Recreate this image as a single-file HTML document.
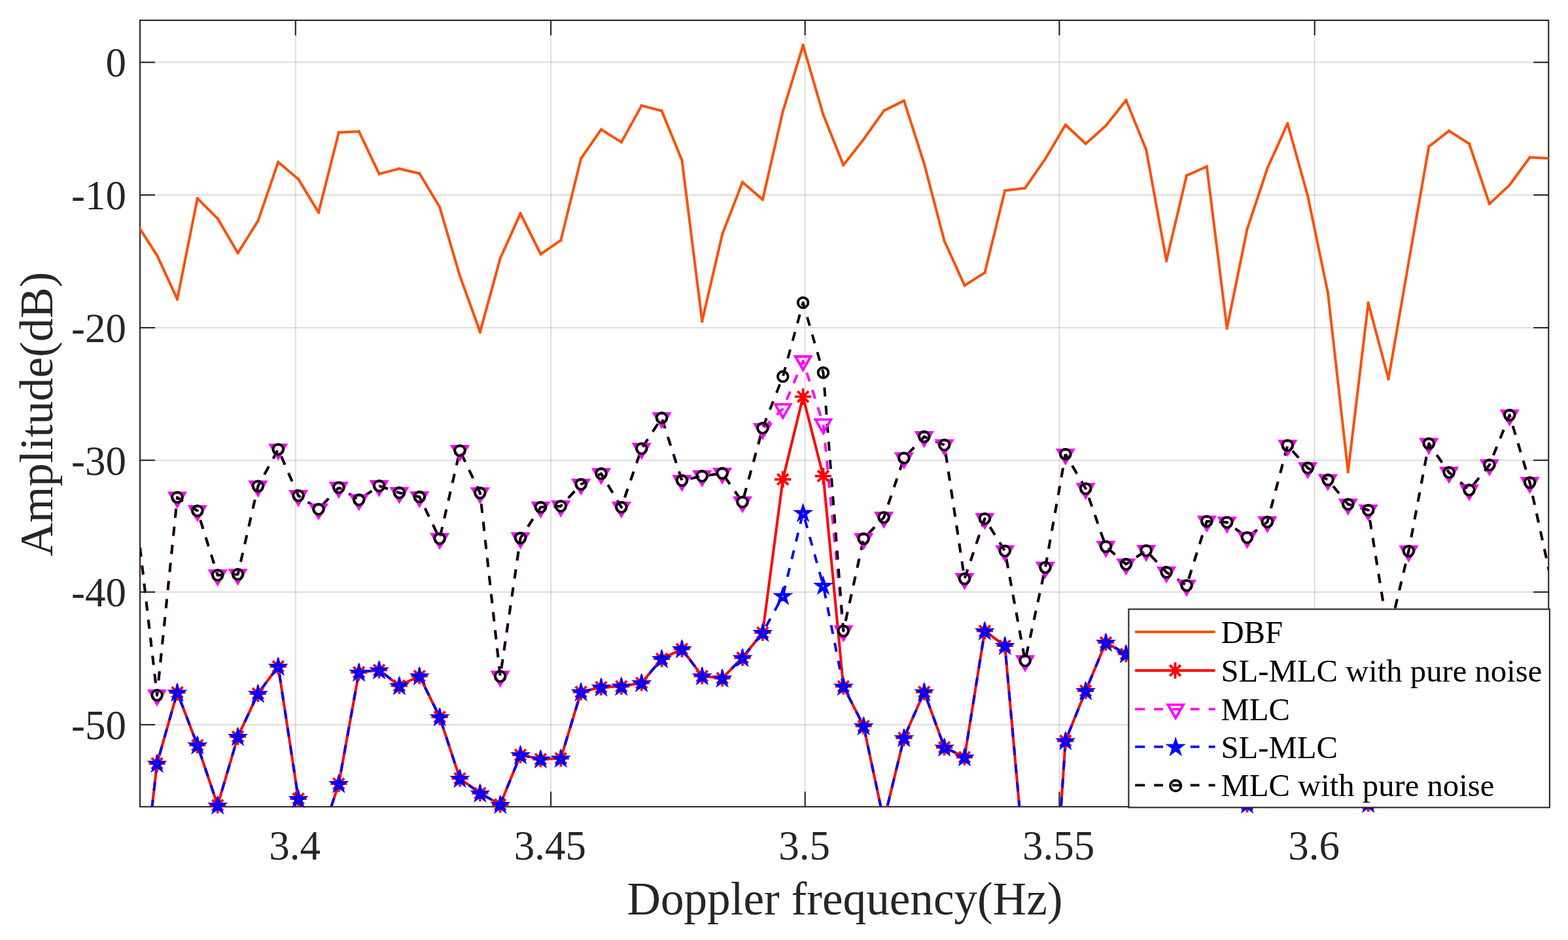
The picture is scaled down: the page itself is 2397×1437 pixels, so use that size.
<!DOCTYPE html>
<html lang="en"><head><meta charset="utf-8"><title>Doppler spectrum</title>
<style>
html,body{margin:0;padding:0;background:#fff;}
body{width:2397px;height:1437px;overflow:hidden;}
svg{display:block;}
text{font-family:"Liberation Serif","Times New Roman",serif;}
.tk{font-size:63px;fill:#262626;}
.lb{font-size:71.2px;fill:#262626;}
.lg{font-size:48.7px;fill:#000;}
.gr{stroke:#262626;stroke-opacity:0.15;stroke-width:2.1;fill:none;}
.ax{stroke:#262626;stroke-width:2.1;fill:none;}
.ln{fill:none;stroke-linejoin:round;stroke-linecap:butt;}
</style></head><body>
<svg xmlns="http://www.w3.org/2000/svg" width="2397" height="1437" viewBox="0 0 2397 1437">
<rect x="0" y="0" width="2397" height="1437" fill="#fff"/>
<defs><clipPath id="ac"><rect x="214.0" y="31.0" width="2153.3" height="1202.3"/></clipPath></defs>
<g class="gr">
<line x1="451.8" y1="31.0" x2="451.8" y2="1233.3"/>
<line x1="842.1" y1="31.0" x2="842.1" y2="1233.3"/>
<line x1="1230.7" y1="31.0" x2="1230.7" y2="1233.3"/>
<line x1="1619.4" y1="31.0" x2="1619.4" y2="1233.3"/>
<line x1="2009.7" y1="31.0" x2="2009.7" y2="1233.3"/>
<line x1="214.0" y1="95.3" x2="2367.3" y2="95.3"/>
<line x1="214.0" y1="298.1" x2="2367.3" y2="298.1"/>
<line x1="214.0" y1="501.0" x2="2367.3" y2="501.0"/>
<line x1="214.0" y1="703.6" x2="2367.3" y2="703.6"/>
<line x1="214.0" y1="905.1" x2="2367.3" y2="905.1"/>
<line x1="214.0" y1="1107.9" x2="2367.3" y2="1107.9"/>
</g>
<g class="ax">
<rect x="214.0" y="31.0" width="2153.3" height="1202.3"/>
<line x1="451.8" y1="1233.3" x2="451.8" y2="1210.3"/>
<line x1="451.8" y1="31.0" x2="451.8" y2="54.0"/>
<line x1="842.1" y1="1233.3" x2="842.1" y2="1210.3"/>
<line x1="842.1" y1="31.0" x2="842.1" y2="54.0"/>
<line x1="1230.7" y1="1233.3" x2="1230.7" y2="1210.3"/>
<line x1="1230.7" y1="31.0" x2="1230.7" y2="54.0"/>
<line x1="1619.4" y1="1233.3" x2="1619.4" y2="1210.3"/>
<line x1="1619.4" y1="31.0" x2="1619.4" y2="54.0"/>
<line x1="2009.7" y1="1233.3" x2="2009.7" y2="1210.3"/>
<line x1="2009.7" y1="31.0" x2="2009.7" y2="54.0"/>
<line x1="214.0" y1="95.3" x2="237.0" y2="95.3"/>
<line x1="2367.3" y1="95.3" x2="2344.3" y2="95.3"/>
<line x1="214.0" y1="298.1" x2="237.0" y2="298.1"/>
<line x1="2367.3" y1="298.1" x2="2344.3" y2="298.1"/>
<line x1="214.0" y1="501.0" x2="237.0" y2="501.0"/>
<line x1="2367.3" y1="501.0" x2="2344.3" y2="501.0"/>
<line x1="214.0" y1="703.6" x2="237.0" y2="703.6"/>
<line x1="2367.3" y1="703.6" x2="2344.3" y2="703.6"/>
<line x1="214.0" y1="905.1" x2="237.0" y2="905.1"/>
<line x1="2367.3" y1="905.1" x2="2344.3" y2="905.1"/>
<line x1="214.0" y1="1107.9" x2="237.0" y2="1107.9"/>
<line x1="2367.3" y1="1107.9" x2="2344.3" y2="1107.9"/>
</g>
<text class="tk" x="450.6" y="1314.4" text-anchor="middle">3.4</text>
<text class="tk" x="840.9" y="1314.4" text-anchor="middle">3.45</text>
<text class="tk" x="1229.5" y="1314.4" text-anchor="middle">3.5</text>
<text class="tk" x="1618.2" y="1314.4" text-anchor="middle">3.55</text>
<text class="tk" x="2008.5" y="1314.4" text-anchor="middle">3.6</text>
<text class="tk" x="193.0" y="117.3" text-anchor="end">0</text>
<text class="tk" x="193.0" y="320.1" text-anchor="end">-10</text>
<text class="tk" x="193.0" y="523.0" text-anchor="end">-20</text>
<text class="tk" x="193.0" y="725.6" text-anchor="end">-30</text>
<text class="tk" x="193.0" y="927.1" text-anchor="end">-40</text>
<text class="tk" x="193.0" y="1129.9" text-anchor="end">-50</text>
<text class="lb" x="1291.5" y="1397.7" text-anchor="middle">Doppler frequency(Hz)</text>
<text class="lb" transform="translate(80,633) rotate(-90)" text-anchor="middle">Amplitude(dB)</text>
<g clip-path="url(#ac)" class="ln">
<path d="M209.2,342.5L240.1,390.4M240.1,390.4L271.0,457.4M271.0,457.4L301.8,303.3M301.8,303.3L332.7,334.1M332.7,334.1L363.6,386.8M363.6,386.8L394.4,337.8M394.4,337.8L425.3,247.7M425.3,247.7L456.1,273.9M456.1,273.9L487.0,324.7M487.0,324.7L517.9,202.5M517.9,202.5L548.7,200.9M548.7,200.9L579.6,265.9M579.6,265.9L610.4,257.9M610.4,257.9L641.3,265.2M641.3,265.2L672.1,316.5M672.1,316.5L703.0,421.7M703.0,421.7L733.9,507.5M733.9,507.5L764.7,395.0M764.7,395.0L795.6,326.4M795.6,326.4L826.5,388.5M826.5,388.5L857.3,367.4M857.3,367.4L888.2,242.4M888.2,242.4L919.0,197.9M919.0,197.9L949.9,217.4M949.9,217.4L980.8,161.4M980.8,161.4L1011.6,169.5M1011.6,169.5L1042.5,244.9M1042.5,244.9L1073.3,491.0M1073.3,491.0L1104.2,358.0M1104.2,358.0L1135.0,278.6M1135.0,278.6L1165.9,305.0M1165.9,305.0L1196.8,170.3M1196.8,170.3L1227.6,69.3M1227.6,69.3L1258.5,175.3M1258.5,175.3L1289.3,252.4M1289.3,252.4L1320.2,213.0M1320.2,213.0L1351.1,169.4M1351.1,169.4L1381.9,153.9M1381.9,153.9L1412.8,250.3M1412.8,250.3L1443.7,368.5M1443.7,368.5L1474.5,436.4M1474.5,436.4L1505.4,416.9M1505.4,416.9L1536.2,291.6M1536.2,291.6L1567.1,287.4M1567.1,287.4L1598.0,242.8M1598.0,242.8L1628.8,190.8M1628.8,190.8L1659.7,219.7M1659.7,219.7L1690.5,192.2M1690.5,192.2L1721.4,153.2M1721.4,153.2L1752.2,229.0M1752.2,229.0L1783.1,398.6M1783.1,398.6L1814.0,268.3M1814.0,268.3L1844.8,254.7M1844.8,254.7L1875.7,501.7M1875.7,501.7L1906.5,350.5M1906.5,350.5L1937.4,257.3M1937.4,257.3L1968.3,188.9M1968.3,188.9L1999.1,299.2M1999.1,299.2L2030.0,448.0M2030.0,448.0L2060.8,721.2M2060.8,721.2L2091.7,463.3M2091.7,463.3L2122.6,579.2M2122.6,579.2L2153.4,401.0M2153.4,401.0L2184.3,224.0M2184.3,224.0L2215.1,200.1M2215.1,200.1L2246.0,219.7M2246.0,219.7L2276.9,311.6M2276.9,311.6L2307.7,282.9M2307.7,282.9L2338.6,240.6M2338.6,240.6L2369.4,242.0" stroke="#fc5008" stroke-width="4.0" stroke-linecap="square"/>
<polyline points="209.2,1435.5 240.1,1167.1 271.0,1058.5 301.8,1139.2 332.7,1231.0 363.6,1126.2 394.4,1060.3 425.3,1018.8 456.1,1221.0 487.0,1291.6 517.9,1198.1 548.7,1027.8 579.6,1024.3 610.4,1048.3 641.3,1033.5 672.1,1096.1 703.0,1190.1 733.9,1212.6 764.7,1230.0 795.6,1154.1 826.5,1160.5 857.3,1159.3 888.2,1057.8 919.0,1050.6 949.9,1049.3 980.8,1044.0 1011.6,1007.2 1042.5,992.2 1073.3,1033.5 1104.2,1036.8 1135.0,1005.5 1165.9,967.1 1196.8,732.8 1227.6,606.4 1258.5,727.8 1289.3,1049.3 1320.2,1109.9 1351.1,1255.0 1381.9,1128.0 1412.8,1057.8 1443.7,1142.5 1474.5,1157.5 1505.4,964.6 1536.2,987.2 1567.1,1330.5 1598.0,1592.5 1628.8,1132.5 1659.7,1056.1 1690.5,982.2 1721.4,999.7 1752.2,1029.5 1783.1,1119.5 1814.0,1079.5 1844.8,1149.5 1875.7,1099.5 1906.5,1229.5 1937.4,1129.5 1968.3,1089.5 1999.1,1159.5 2030.0,1139.5 2060.8,1179.5 2091.7,1228.5 2122.6,1149.5 2153.4,1099.5 2184.3,1169.5 2215.1,1119.5 2246.0,1189.5 2276.9,1139.5 2307.7,1099.5 2338.6,1159.5 2369.4,1179.5" stroke="#f00" stroke-width="4.0"/>
<polyline points="209.2,795.0 240.1,1062.8 271.0,760.3 301.8,780.9 332.7,879.3 363.6,878.1 394.4,743.3 425.3,686.9 456.1,757.8 487.0,778.4 517.9,745.3" stroke="#f0f" stroke-width="3.9" stroke-dasharray="13.8 13.98" stroke-dashoffset="13.74"/>
<polyline points="517.9,745.3 548.7,764.1 579.6,742.8 610.4,753.3 641.3,759.6 672.1,823.4 703.0,688.9 733.9,753.6 764.7,1034.0 795.6,822.5 826.5,775.4 857.3,773.7 888.2,740.4 919.0,724.1 949.9,775.4 980.8,685.8" stroke="#f0f" stroke-width="3.9" stroke-dasharray="13.8 13.98" stroke-dashoffset="10.05"/>
<polyline points="980.8,685.8 1011.6,638.9 1042.5,734.6 1073.3,727.8 1104.2,723.6 1135.0,767.4 1165.9,655.5 1196.8,624.9 1227.6,551.8 1258.5,648.2 1289.3,964.6 1320.2,823.6" stroke="#f0f" stroke-width="3.9" stroke-dasharray="13.8 13.98" stroke-dashoffset="24.93"/>
<polyline points="1320.2,823.6 1351.1,791.0 1381.9,700.2 1412.8,667.6 1443.7,680.2 1474.5,884.8 1505.4,792.9 1536.2,842.2 1567.1,1010.2 1598.0,867.5 1628.8,694.4" stroke="#f0f" stroke-width="3.9" stroke-dasharray="13.8 13.98" stroke-dashoffset="16.77"/>
<polyline points="1628.8,694.4 1659.7,747.0 1690.5,835.5 1721.4,862.5 1752.2,841.7 1783.1,874.8 1814.0,895.0 1844.8,796.9 1875.7,798.5 1906.5,821.7 1937.4,797.9 1968.3,681.0" stroke="#f0f" stroke-width="3.9" stroke-dasharray="13.8 13.98" stroke-dashoffset="6.75"/>
<polyline points="1968.3,681.0 1999.1,715.3 2030.0,733.6 2060.8,770.9 2091.7,779.9 2122.6,971.7 2153.4,842.5 2184.3,678.2 2215.1,722.3 2246.0,749.1 2276.9,710.8 2307.7,634.6 2338.6,737.8 2369.4,878.0" stroke="#f0f" stroke-width="3.9" stroke-dasharray="13.8 13.98" stroke-dashoffset="15.83"/>
<polyline points="209.2,1435.5 240.1,1167.1 271.0,1058.5 301.8,1139.2 332.7,1231.0 363.6,1126.2 394.4,1060.3 425.3,1018.8 456.1,1221.0 487.0,1291.6" stroke="#00f" stroke-width="3.9" stroke-dasharray="13.8 13.98" stroke-dashoffset="21.85"/>
<polyline points="487.0,1291.6 517.9,1198.1 548.7,1027.8 579.6,1024.3 610.4,1048.3 641.3,1033.5 672.1,1096.1 703.0,1190.1 733.9,1212.6 764.7,1230.0 795.6,1154.1 826.5,1160.5 857.3,1159.3 888.2,1057.8" stroke="#00f" stroke-width="3.9" stroke-dasharray="13.8 13.98" stroke-dashoffset="21.75"/>
<polyline points="888.2,1057.8 919.0,1050.6 949.9,1049.3 980.8,1044.0 1011.6,1007.2 1042.5,992.2 1073.3,1033.5 1104.2,1036.8 1135.0,1005.5 1165.9,967.1 1196.8,910.8 1227.6,783.9 1258.5,895.1 1289.3,1049.3 1320.2,1109.9 1351.1,1255.0" stroke="#00f" stroke-width="3.9" stroke-dasharray="13.8 13.98" stroke-dashoffset="26.14"/>
<polyline points="1351.1,1255.0 1381.9,1128.0 1412.8,1057.8 1443.7,1142.5 1474.5,1157.5 1505.4,964.6 1536.2,987.2 1567.1,1330.5" stroke="#00f" stroke-width="3.9" stroke-dasharray="13.8 13.98" stroke-dashoffset="2.83"/>
<polyline points="1567.1,1330.5 1598.0,1592.5 1628.8,1132.5 1659.7,1056.1 1690.5,982.2 1721.4,999.7 1752.2,1029.5 1783.1,1119.5 1814.0,1079.5 1844.8,1149.5 1875.7,1099.5 1906.5,1229.5 1937.4,1129.5 1968.3,1089.5 1999.1,1159.5 2030.0,1139.5 2060.8,1179.5 2091.7,1228.5 2122.6,1149.5 2153.4,1099.5 2184.3,1169.5 2215.1,1119.5 2246.0,1189.5 2276.9,1139.5 2307.7,1099.5 2338.6,1159.5 2369.4,1179.5" stroke="#00f" stroke-width="3.9" stroke-dasharray="13.8 13.98" stroke-dashoffset="13.96"/>
<polyline points="209.2,795.0 240.1,1062.8 271.0,760.3 301.8,780.9 332.7,879.3 363.6,878.1 394.4,743.3 425.3,686.9 456.1,757.8 487.0,778.4 517.9,745.3" stroke="#000" stroke-width="3.9" stroke-dasharray="13.8 13.98" stroke-dashoffset="12.99"/>
<polyline points="517.9,745.3 548.7,764.1 579.6,742.8 610.4,753.3 641.3,759.6 672.1,823.4 703.0,688.9 733.9,753.6 764.7,1034.0 795.6,822.5 826.5,775.4 857.3,773.7 888.2,740.4 919.0,724.1 949.9,775.4 980.8,685.8" stroke="#000" stroke-width="3.9" stroke-dasharray="13.8 13.98" stroke-dashoffset="9.30"/>
<polyline points="980.8,685.8 1011.6,638.9 1042.5,734.6 1073.3,727.8 1104.2,723.6 1135.0,767.4 1165.9,654.4 1196.8,575.6 1227.6,462.7 1258.5,569.7 1289.3,964.6 1320.2,823.6" stroke="#000" stroke-width="3.9" stroke-dasharray="13.8 13.98" stroke-dashoffset="24.18"/>
<polyline points="1320.2,823.6 1351.1,791.0 1381.9,700.2 1412.8,667.6 1443.7,680.2 1474.5,884.8 1505.4,792.9 1536.2,842.2 1567.1,1010.2 1598.0,867.5 1628.8,694.4" stroke="#000" stroke-width="3.9" stroke-dasharray="13.8 13.98" stroke-dashoffset="17.61"/>
<polyline points="1628.8,694.4 1659.7,747.0 1690.5,835.5 1721.4,862.5 1752.2,841.7 1783.1,874.8 1814.0,895.0 1844.8,796.9 1875.7,798.5 1906.5,821.7 1937.4,797.9 1968.3,681.0" stroke="#000" stroke-width="3.9" stroke-dasharray="13.8 13.98" stroke-dashoffset="7.59"/>
<polyline points="1968.3,681.0 1999.1,715.3 2030.0,733.6 2060.8,770.9 2091.7,779.9 2122.6,971.7 2153.4,842.5 2184.3,678.2 2215.1,722.3 2246.0,749.1 2276.9,710.8 2307.7,634.6 2338.6,737.8 2369.4,878.0" stroke="#000" stroke-width="3.9" stroke-dasharray="13.8 13.98" stroke-dashoffset="16.66"/>
</g>
<path d="M227.51,1167.10H252.71M240.11,1154.50V1179.70M231.71,1158.70L248.51,1175.50M231.71,1175.50L248.51,1158.70M258.37,1058.50H283.57M270.97,1045.90V1071.10M262.57,1050.10L279.37,1066.90M262.57,1066.90L279.37,1050.10M289.23,1139.20H314.43M301.83,1126.60V1151.80M293.43,1130.80L310.23,1147.60M293.43,1147.60L310.23,1130.80M320.09,1231.00H345.29M332.69,1218.40V1243.60M324.29,1222.60L341.09,1239.40M324.29,1239.40L341.09,1222.60M350.95,1126.20H376.15M363.55,1113.60V1138.80M355.15,1117.80L371.95,1134.60M355.15,1134.60L371.95,1117.80M381.81,1060.30H407.01M394.41,1047.70V1072.90M386.01,1051.90L402.81,1068.70M386.01,1068.70L402.81,1051.90M412.67,1018.80H437.87M425.27,1006.20V1031.40M416.87,1010.40L433.67,1027.20M416.87,1027.20L433.67,1010.40M443.53,1221.00H468.73M456.13,1208.40V1233.60M447.73,1212.60L464.53,1229.40M447.73,1229.40L464.53,1212.60M505.25,1198.10H530.45M517.85,1185.50V1210.70M509.45,1189.70L526.25,1206.50M509.45,1206.50L526.25,1189.70M536.11,1027.80H561.31M548.71,1015.20V1040.40M540.31,1019.40L557.11,1036.20M540.31,1036.20L557.11,1019.40M566.97,1024.30H592.17M579.57,1011.70V1036.90M571.17,1015.90L587.97,1032.70M571.17,1032.70L587.97,1015.90M597.83,1048.30H623.03M610.43,1035.70V1060.90M602.03,1039.90L618.83,1056.70M602.03,1056.70L618.83,1039.90M628.69,1033.50H653.89M641.29,1020.90V1046.10M632.89,1025.10L649.69,1041.90M632.89,1041.90L649.69,1025.10M659.55,1096.10H684.75M672.15,1083.50V1108.70M663.75,1087.70L680.55,1104.50M663.75,1104.50L680.55,1087.70M690.41,1190.10H715.61M703.01,1177.50V1202.70M694.61,1181.70L711.41,1198.50M694.61,1198.50L711.41,1181.70M721.27,1212.60H746.47M733.87,1200.00V1225.20M725.47,1204.20L742.27,1221.00M725.47,1221.00L742.27,1204.20M752.13,1230.00H777.33M764.73,1217.40V1242.60M756.33,1221.60L773.13,1238.40M756.33,1238.40L773.13,1221.60M782.99,1154.10H808.19M795.59,1141.50V1166.70M787.19,1145.70L803.99,1162.50M787.19,1162.50L803.99,1145.70M813.85,1160.50H839.05M826.45,1147.90V1173.10M818.05,1152.10L834.85,1168.90M818.05,1168.90L834.85,1152.10M844.71,1159.30H869.91M857.31,1146.70V1171.90M848.91,1150.90L865.71,1167.70M848.91,1167.70L865.71,1150.90M875.57,1057.80H900.77M888.17,1045.20V1070.40M879.77,1049.40L896.57,1066.20M879.77,1066.20L896.57,1049.40M906.43,1050.60H931.63M919.03,1038.00V1063.20M910.63,1042.20L927.43,1059.00M910.63,1059.00L927.43,1042.20M937.29,1049.30H962.49M949.89,1036.70V1061.90M941.49,1040.90L958.29,1057.70M941.49,1057.70L958.29,1040.90M968.15,1044.00H993.35M980.75,1031.40V1056.60M972.35,1035.60L989.15,1052.40M972.35,1052.40L989.15,1035.60M999.01,1007.20H1024.21M1011.61,994.60V1019.80M1003.21,998.80L1020.01,1015.60M1003.21,1015.60L1020.01,998.80M1029.87,992.20H1055.07M1042.47,979.60V1004.80M1034.07,983.80L1050.87,1000.60M1034.07,1000.60L1050.87,983.80M1060.73,1033.50H1085.93M1073.33,1020.90V1046.10M1064.93,1025.10L1081.73,1041.90M1064.93,1041.90L1081.73,1025.10M1091.59,1036.80H1116.79M1104.19,1024.20V1049.40M1095.79,1028.40L1112.59,1045.20M1095.79,1045.20L1112.59,1028.40M1122.45,1005.50H1147.65M1135.05,992.90V1018.10M1126.65,997.10L1143.45,1013.90M1126.65,1013.90L1143.45,997.10M1153.31,967.10H1178.51M1165.91,954.50V979.70M1157.51,958.70L1174.31,975.50M1157.51,975.50L1174.31,958.70M1184.17,732.80H1209.37M1196.77,720.20V745.40M1188.37,724.40L1205.17,741.20M1188.37,741.20L1205.17,724.40M1215.03,606.40H1240.23M1227.63,593.80V619.00M1219.23,598.00L1236.03,614.80M1219.23,614.80L1236.03,598.00M1245.89,727.80H1271.09M1258.49,715.20V740.40M1250.09,719.40L1266.89,736.20M1250.09,736.20L1266.89,719.40M1276.75,1049.30H1301.95M1289.35,1036.70V1061.90M1280.95,1040.90L1297.75,1057.70M1280.95,1057.70L1297.75,1040.90M1307.61,1109.90H1332.81M1320.21,1097.30V1122.50M1311.81,1101.50L1328.61,1118.30M1311.81,1118.30L1328.61,1101.50M1369.33,1128.00H1394.53M1381.93,1115.40V1140.60M1373.53,1119.60L1390.33,1136.40M1373.53,1136.40L1390.33,1119.60M1400.19,1057.80H1425.39M1412.79,1045.20V1070.40M1404.39,1049.40L1421.19,1066.20M1404.39,1066.20L1421.19,1049.40M1431.05,1142.50H1456.25M1443.65,1129.90V1155.10M1435.25,1134.10L1452.05,1150.90M1435.25,1150.90L1452.05,1134.10M1461.91,1157.50H1487.11M1474.51,1144.90V1170.10M1466.11,1149.10L1482.91,1165.90M1466.11,1165.90L1482.91,1149.10M1492.77,964.60H1517.97M1505.37,952.00V977.20M1496.97,956.20L1513.77,973.00M1496.97,973.00L1513.77,956.20M1523.63,987.20H1548.83M1536.23,974.60V999.80M1527.83,978.80L1544.63,995.60M1527.83,995.60L1544.63,978.80M1616.21,1132.50H1641.41M1628.81,1119.90V1145.10M1620.41,1124.10L1637.21,1140.90M1620.41,1140.90L1637.21,1124.10M1647.07,1056.10H1672.27M1659.67,1043.50V1068.70M1651.27,1047.70L1668.07,1064.50M1651.27,1064.50L1668.07,1047.70M1677.93,982.20H1703.13M1690.53,969.60V994.80M1682.13,973.80L1698.93,990.60M1682.13,990.60L1698.93,973.80M1708.79,999.70H1733.99M1721.39,987.10V1012.30M1712.99,991.30L1729.79,1008.10M1712.99,1008.10L1729.79,991.30M1739.65,1029.50H1764.85M1752.25,1016.90V1042.10M1743.85,1021.10L1760.65,1037.90M1743.85,1037.90L1760.65,1021.10M1770.51,1119.50H1795.71M1783.11,1106.90V1132.10M1774.71,1111.10L1791.51,1127.90M1774.71,1127.90L1791.51,1111.10M1801.37,1079.50H1826.57M1813.97,1066.90V1092.10M1805.57,1071.10L1822.37,1087.90M1805.57,1087.90L1822.37,1071.10M1832.23,1149.50H1857.43M1844.83,1136.90V1162.10M1836.43,1141.10L1853.23,1157.90M1836.43,1157.90L1853.23,1141.10M1863.09,1099.50H1888.29M1875.69,1086.90V1112.10M1867.29,1091.10L1884.09,1107.90M1867.29,1107.90L1884.09,1091.10M1893.95,1229.50H1919.15M1906.55,1216.90V1242.10M1898.15,1221.10L1914.95,1237.90M1898.15,1237.90L1914.95,1221.10M1924.81,1129.50H1950.01M1937.41,1116.90V1142.10M1929.01,1121.10L1945.81,1137.90M1929.01,1137.90L1945.81,1121.10M1955.67,1089.50H1980.87M1968.27,1076.90V1102.10M1959.87,1081.10L1976.67,1097.90M1959.87,1097.90L1976.67,1081.10M1986.53,1159.50H2011.73M1999.13,1146.90V1172.10M1990.73,1151.10L2007.53,1167.90M1990.73,1167.90L2007.53,1151.10M2017.39,1139.50H2042.59M2029.99,1126.90V1152.10M2021.59,1131.10L2038.39,1147.90M2021.59,1147.90L2038.39,1131.10M2048.25,1179.50H2073.45M2060.85,1166.90V1192.10M2052.45,1171.10L2069.25,1187.90M2052.45,1187.90L2069.25,1171.10M2079.11,1228.50H2104.31M2091.71,1215.90V1241.10M2083.31,1220.10L2100.11,1236.90M2083.31,1236.90L2100.11,1220.10M2109.97,1149.50H2135.17M2122.57,1136.90V1162.10M2114.17,1141.10L2130.97,1157.90M2114.17,1157.90L2130.97,1141.10M2140.83,1099.50H2166.03M2153.43,1086.90V1112.10M2145.03,1091.10L2161.83,1107.90M2145.03,1107.90L2161.83,1091.10M2171.69,1169.50H2196.89M2184.29,1156.90V1182.10M2175.89,1161.10L2192.69,1177.90M2175.89,1177.90L2192.69,1161.10M2202.55,1119.50H2227.75M2215.15,1106.90V1132.10M2206.75,1111.10L2223.55,1127.90M2206.75,1127.90L2223.55,1111.10M2233.41,1189.50H2258.61M2246.01,1176.90V1202.10M2237.61,1181.10L2254.41,1197.90M2237.61,1197.90L2254.41,1181.10M2264.27,1139.50H2289.47M2276.87,1126.90V1152.10M2268.47,1131.10L2285.27,1147.90M2268.47,1147.90L2285.27,1131.10M2295.13,1099.50H2320.33M2307.73,1086.90V1112.10M2299.33,1091.10L2316.13,1107.90M2299.33,1107.90L2316.13,1091.10M2325.99,1159.50H2351.19M2338.59,1146.90V1172.10M2330.19,1151.10L2346.99,1167.90M2330.19,1167.90L2346.99,1151.10" fill="none" stroke="#f00" stroke-width="3.8"/>
<path d="M228.31,1055.99L251.91,1055.99L240.11,1076.43ZM259.17,753.49L282.77,753.49L270.97,773.93ZM290.03,774.09L313.63,774.09L301.83,794.53ZM320.89,872.49L344.49,872.49L332.69,892.93ZM351.75,871.29L375.35,871.29L363.55,891.73ZM382.61,736.49L406.21,736.49L394.41,756.93ZM413.47,680.09L437.07,680.09L425.27,700.53ZM444.33,750.99L467.93,750.99L456.13,771.43ZM475.19,771.59L498.79,771.59L486.99,792.03ZM506.05,738.49L529.65,738.49L517.85,758.93ZM536.91,757.29L560.51,757.29L548.71,777.73ZM567.77,735.99L591.37,735.99L579.57,756.43ZM598.63,746.49L622.23,746.49L610.43,766.93ZM629.49,752.79L653.09,752.79L641.29,773.23ZM660.35,816.59L683.95,816.59L672.15,837.03ZM691.21,682.09L714.81,682.09L703.01,702.53ZM722.07,746.79L745.67,746.79L733.87,767.23ZM752.93,1027.19L776.53,1027.19L764.73,1047.63ZM783.79,815.69L807.39,815.69L795.59,836.13ZM814.65,768.59L838.25,768.59L826.45,789.03ZM845.51,766.89L869.11,766.89L857.31,787.33ZM876.37,733.59L899.97,733.59L888.17,754.03ZM907.23,717.29L930.83,717.29L919.03,737.73ZM938.09,768.59L961.69,768.59L949.89,789.03ZM968.95,678.99L992.55,678.99L980.75,699.43ZM999.81,632.09L1023.41,632.09L1011.61,652.53ZM1030.67,727.79L1054.27,727.79L1042.47,748.23ZM1061.53,720.99L1085.13,720.99L1073.33,741.43ZM1092.39,716.79L1115.99,716.79L1104.19,737.23ZM1123.25,760.59L1146.85,760.59L1135.05,781.03ZM1154.11,648.69L1177.71,648.69L1165.91,669.13ZM1184.97,618.09L1208.57,618.09L1196.77,638.53ZM1215.83,544.99L1239.43,544.99L1227.63,565.43ZM1246.69,641.39L1270.29,641.39L1258.49,661.83ZM1277.55,957.79L1301.15,957.79L1289.35,978.23ZM1308.41,816.79L1332.01,816.79L1320.21,837.23ZM1339.27,784.19L1362.87,784.19L1351.07,804.63ZM1370.13,693.39L1393.73,693.39L1381.93,713.83ZM1400.99,660.79L1424.59,660.79L1412.79,681.23ZM1431.85,673.39L1455.45,673.39L1443.65,693.83ZM1462.71,877.99L1486.31,877.99L1474.51,898.43ZM1493.57,786.09L1517.17,786.09L1505.37,806.53ZM1524.43,835.39L1548.03,835.39L1536.23,855.83ZM1555.29,1003.39L1578.89,1003.39L1567.09,1023.83ZM1586.15,860.69L1609.75,860.69L1597.95,881.13ZM1617.01,687.59L1640.61,687.59L1628.81,708.03ZM1647.87,740.19L1671.47,740.19L1659.67,760.63ZM1678.73,828.69L1702.33,828.69L1690.53,849.13ZM1709.59,855.69L1733.19,855.69L1721.39,876.13ZM1740.45,834.89L1764.05,834.89L1752.25,855.33ZM1771.31,867.99L1794.91,867.99L1783.11,888.43ZM1802.17,888.19L1825.77,888.19L1813.97,908.63ZM1833.03,790.09L1856.63,790.09L1844.83,810.53ZM1863.89,791.69L1887.49,791.69L1875.69,812.13ZM1894.75,814.89L1918.35,814.89L1906.55,835.33ZM1925.61,791.09L1949.21,791.09L1937.41,811.53ZM1956.47,674.19L1980.07,674.19L1968.27,694.63ZM1987.33,708.49L2010.93,708.49L1999.13,728.93ZM2018.19,726.79L2041.79,726.79L2029.99,747.23ZM2049.05,764.09L2072.65,764.09L2060.85,784.53ZM2079.91,773.09L2103.51,773.09L2091.71,793.53ZM2110.77,964.89L2134.37,964.89L2122.57,985.33ZM2141.63,835.69L2165.23,835.69L2153.43,856.13ZM2172.49,671.39L2196.09,671.39L2184.29,691.83ZM2203.35,715.49L2226.95,715.49L2215.15,735.93ZM2234.21,742.29L2257.81,742.29L2246.01,762.73ZM2265.07,703.99L2288.67,703.99L2276.87,724.43ZM2295.93,627.79L2319.53,627.79L2307.73,648.23ZM2326.79,730.99L2350.39,730.99L2338.59,751.43Z" fill="none" stroke="#f0f" stroke-width="3.8" stroke-linejoin="miter" stroke-miterlimit="10"/>
<path d="M240.11,1159.00L242.16,1165.28L248.76,1165.29L243.42,1169.18L245.46,1175.46L240.11,1171.58L234.76,1175.46L236.80,1169.18L231.46,1165.29L238.06,1165.28ZM270.97,1050.40L273.02,1056.68L279.62,1056.69L274.28,1060.58L276.32,1066.86L270.97,1062.98L265.62,1066.86L267.66,1060.58L262.32,1056.69L268.92,1056.68ZM301.83,1131.10L303.88,1137.38L310.48,1137.39L305.14,1141.28L307.18,1147.56L301.83,1143.68L296.48,1147.56L298.52,1141.28L293.18,1137.39L299.78,1137.38ZM332.69,1222.90L334.74,1229.18L341.34,1229.19L336.00,1233.08L338.04,1239.36L332.69,1235.48L327.34,1239.36L329.38,1233.08L324.04,1229.19L330.64,1229.18ZM363.55,1118.10L365.60,1124.38L372.20,1124.39L366.86,1128.28L368.90,1134.56L363.55,1130.68L358.20,1134.56L360.24,1128.28L354.90,1124.39L361.50,1124.38ZM394.41,1052.20L396.46,1058.48L403.06,1058.49L397.72,1062.38L399.76,1068.66L394.41,1064.78L389.06,1068.66L391.10,1062.38L385.76,1058.49L392.36,1058.48ZM425.27,1010.70L427.32,1016.98L433.92,1016.99L428.58,1020.88L430.62,1027.16L425.27,1023.28L419.92,1027.16L421.96,1020.88L416.62,1016.99L423.22,1016.98ZM456.13,1212.90L458.18,1219.18L464.78,1219.19L459.44,1223.08L461.48,1229.36L456.13,1225.48L450.78,1229.36L452.82,1223.08L447.48,1219.19L454.08,1219.18ZM517.85,1190.00L519.90,1196.28L526.50,1196.29L521.16,1200.18L523.20,1206.46L517.85,1202.58L512.50,1206.46L514.54,1200.18L509.20,1196.29L515.80,1196.28ZM548.71,1019.70L550.76,1025.98L557.36,1025.99L552.02,1029.88L554.06,1036.16L548.71,1032.28L543.36,1036.16L545.40,1029.88L540.06,1025.99L546.66,1025.98ZM579.57,1016.20L581.62,1022.48L588.22,1022.49L582.88,1026.38L584.92,1032.66L579.57,1028.78L574.22,1032.66L576.26,1026.38L570.92,1022.49L577.52,1022.48ZM610.43,1040.20L612.48,1046.48L619.08,1046.49L613.74,1050.38L615.78,1056.66L610.43,1052.78L605.08,1056.66L607.12,1050.38L601.78,1046.49L608.38,1046.48ZM641.29,1025.40L643.34,1031.68L649.94,1031.69L644.60,1035.58L646.64,1041.86L641.29,1037.98L635.94,1041.86L637.98,1035.58L632.64,1031.69L639.24,1031.68ZM672.15,1088.00L674.20,1094.28L680.80,1094.29L675.46,1098.18L677.50,1104.46L672.15,1100.58L666.80,1104.46L668.84,1098.18L663.50,1094.29L670.10,1094.28ZM703.01,1182.00L705.06,1188.28L711.66,1188.29L706.32,1192.18L708.36,1198.46L703.01,1194.58L697.66,1198.46L699.70,1192.18L694.36,1188.29L700.96,1188.28ZM733.87,1204.50L735.92,1210.78L742.52,1210.79L737.18,1214.68L739.22,1220.96L733.87,1217.08L728.52,1220.96L730.56,1214.68L725.22,1210.79L731.82,1210.78ZM764.73,1221.90L766.78,1228.18L773.38,1228.19L768.04,1232.08L770.08,1238.36L764.73,1234.48L759.38,1238.36L761.42,1232.08L756.08,1228.19L762.68,1228.18ZM795.59,1146.00L797.64,1152.28L804.24,1152.29L798.90,1156.18L800.94,1162.46L795.59,1158.58L790.24,1162.46L792.28,1156.18L786.94,1152.29L793.54,1152.28ZM826.45,1152.40L828.50,1158.68L835.10,1158.69L829.76,1162.58L831.80,1168.86L826.45,1164.98L821.10,1168.86L823.14,1162.58L817.80,1158.69L824.40,1158.68ZM857.31,1151.20L859.36,1157.48L865.96,1157.49L860.62,1161.38L862.66,1167.66L857.31,1163.78L851.96,1167.66L854.00,1161.38L848.66,1157.49L855.26,1157.48ZM888.17,1049.70L890.22,1055.98L896.82,1055.99L891.48,1059.88L893.52,1066.16L888.17,1062.28L882.82,1066.16L884.86,1059.88L879.52,1055.99L886.12,1055.98ZM919.03,1042.50L921.08,1048.78L927.68,1048.79L922.34,1052.68L924.38,1058.96L919.03,1055.08L913.68,1058.96L915.72,1052.68L910.38,1048.79L916.98,1048.78ZM949.89,1041.20L951.94,1047.48L958.54,1047.49L953.20,1051.38L955.24,1057.66L949.89,1053.78L944.54,1057.66L946.58,1051.38L941.24,1047.49L947.84,1047.48ZM980.75,1035.90L982.80,1042.18L989.40,1042.19L984.06,1046.08L986.10,1052.36L980.75,1048.48L975.40,1052.36L977.44,1046.08L972.10,1042.19L978.70,1042.18ZM1011.61,999.10L1013.66,1005.38L1020.26,1005.39L1014.92,1009.28L1016.96,1015.56L1011.61,1011.68L1006.26,1015.56L1008.30,1009.28L1002.96,1005.39L1009.56,1005.38ZM1042.47,984.10L1044.52,990.38L1051.12,990.39L1045.78,994.28L1047.82,1000.56L1042.47,996.68L1037.12,1000.56L1039.16,994.28L1033.82,990.39L1040.42,990.38ZM1073.33,1025.40L1075.38,1031.68L1081.98,1031.69L1076.64,1035.58L1078.68,1041.86L1073.33,1037.98L1067.98,1041.86L1070.02,1035.58L1064.68,1031.69L1071.28,1031.68ZM1104.19,1028.70L1106.24,1034.98L1112.84,1034.99L1107.50,1038.88L1109.54,1045.16L1104.19,1041.28L1098.84,1045.16L1100.88,1038.88L1095.54,1034.99L1102.14,1034.98ZM1135.05,997.40L1137.10,1003.68L1143.70,1003.69L1138.36,1007.58L1140.40,1013.86L1135.05,1009.98L1129.70,1013.86L1131.74,1007.58L1126.40,1003.69L1133.00,1003.68ZM1165.91,959.00L1167.96,965.28L1174.56,965.29L1169.22,969.18L1171.26,975.46L1165.91,971.58L1160.56,975.46L1162.60,969.18L1157.26,965.29L1163.86,965.28ZM1196.77,902.70L1198.82,908.98L1205.42,908.99L1200.08,912.88L1202.12,919.16L1196.77,915.28L1191.42,919.16L1193.46,912.88L1188.12,908.99L1194.72,908.98ZM1227.63,775.80L1229.68,782.08L1236.28,782.09L1230.94,785.98L1232.98,792.26L1227.63,788.38L1222.28,792.26L1224.32,785.98L1218.98,782.09L1225.58,782.08ZM1258.49,887.00L1260.54,893.28L1267.14,893.29L1261.80,897.18L1263.84,903.46L1258.49,899.58L1253.14,903.46L1255.18,897.18L1249.84,893.29L1256.44,893.28ZM1289.35,1041.20L1291.40,1047.48L1298.00,1047.49L1292.66,1051.38L1294.70,1057.66L1289.35,1053.78L1284.00,1057.66L1286.04,1051.38L1280.70,1047.49L1287.30,1047.48ZM1320.21,1101.80L1322.26,1108.08L1328.86,1108.09L1323.52,1111.98L1325.56,1118.26L1320.21,1114.38L1314.86,1118.26L1316.90,1111.98L1311.56,1108.09L1318.16,1108.08ZM1381.93,1119.90L1383.98,1126.18L1390.58,1126.19L1385.24,1130.08L1387.28,1136.36L1381.93,1132.48L1376.58,1136.36L1378.62,1130.08L1373.28,1126.19L1379.88,1126.18ZM1412.79,1049.70L1414.84,1055.98L1421.44,1055.99L1416.10,1059.88L1418.14,1066.16L1412.79,1062.28L1407.44,1066.16L1409.48,1059.88L1404.14,1055.99L1410.74,1055.98ZM1443.65,1134.40L1445.70,1140.68L1452.30,1140.69L1446.96,1144.58L1449.00,1150.86L1443.65,1146.98L1438.30,1150.86L1440.34,1144.58L1435.00,1140.69L1441.60,1140.68ZM1474.51,1149.40L1476.56,1155.68L1483.16,1155.69L1477.82,1159.58L1479.86,1165.86L1474.51,1161.98L1469.16,1165.86L1471.20,1159.58L1465.86,1155.69L1472.46,1155.68ZM1505.37,956.50L1507.42,962.78L1514.02,962.79L1508.68,966.68L1510.72,972.96L1505.37,969.08L1500.02,972.96L1502.06,966.68L1496.72,962.79L1503.32,962.78ZM1536.23,979.10L1538.28,985.38L1544.88,985.39L1539.54,989.28L1541.58,995.56L1536.23,991.68L1530.88,995.56L1532.92,989.28L1527.58,985.39L1534.18,985.38ZM1628.81,1124.40L1630.86,1130.68L1637.46,1130.69L1632.12,1134.58L1634.16,1140.86L1628.81,1136.98L1623.46,1140.86L1625.50,1134.58L1620.16,1130.69L1626.76,1130.68ZM1659.67,1048.00L1661.72,1054.28L1668.32,1054.29L1662.98,1058.18L1665.02,1064.46L1659.67,1060.58L1654.32,1064.46L1656.36,1058.18L1651.02,1054.29L1657.62,1054.28ZM1690.53,974.10L1692.58,980.38L1699.18,980.39L1693.84,984.28L1695.88,990.56L1690.53,986.68L1685.18,990.56L1687.22,984.28L1681.88,980.39L1688.48,980.38ZM1721.39,991.60L1723.44,997.88L1730.04,997.89L1724.70,1001.78L1726.74,1008.06L1721.39,1004.18L1716.04,1008.06L1718.08,1001.78L1712.74,997.89L1719.34,997.88ZM1752.25,1021.40L1754.30,1027.68L1760.90,1027.69L1755.56,1031.58L1757.60,1037.86L1752.25,1033.98L1746.90,1037.86L1748.94,1031.58L1743.60,1027.69L1750.20,1027.68ZM1783.11,1111.40L1785.16,1117.68L1791.76,1117.69L1786.42,1121.58L1788.46,1127.86L1783.11,1123.98L1777.76,1127.86L1779.80,1121.58L1774.46,1117.69L1781.06,1117.68ZM1813.97,1071.40L1816.02,1077.68L1822.62,1077.69L1817.28,1081.58L1819.32,1087.86L1813.97,1083.98L1808.62,1087.86L1810.66,1081.58L1805.32,1077.69L1811.92,1077.68ZM1844.83,1141.40L1846.88,1147.68L1853.48,1147.69L1848.14,1151.58L1850.18,1157.86L1844.83,1153.98L1839.48,1157.86L1841.52,1151.58L1836.18,1147.69L1842.78,1147.68ZM1875.69,1091.40L1877.74,1097.68L1884.34,1097.69L1879.00,1101.58L1881.04,1107.86L1875.69,1103.98L1870.34,1107.86L1872.38,1101.58L1867.04,1097.69L1873.64,1097.68ZM1906.55,1221.40L1908.60,1227.68L1915.20,1227.69L1909.86,1231.58L1911.90,1237.86L1906.55,1233.98L1901.20,1237.86L1903.24,1231.58L1897.90,1227.69L1904.50,1227.68ZM1937.41,1121.40L1939.46,1127.68L1946.06,1127.69L1940.72,1131.58L1942.76,1137.86L1937.41,1133.98L1932.06,1137.86L1934.10,1131.58L1928.76,1127.69L1935.36,1127.68ZM1968.27,1081.40L1970.32,1087.68L1976.92,1087.69L1971.58,1091.58L1973.62,1097.86L1968.27,1093.98L1962.92,1097.86L1964.96,1091.58L1959.62,1087.69L1966.22,1087.68ZM1999.13,1151.40L2001.18,1157.68L2007.78,1157.69L2002.44,1161.58L2004.48,1167.86L1999.13,1163.98L1993.78,1167.86L1995.82,1161.58L1990.48,1157.69L1997.08,1157.68ZM2029.99,1131.40L2032.04,1137.68L2038.64,1137.69L2033.30,1141.58L2035.34,1147.86L2029.99,1143.98L2024.64,1147.86L2026.68,1141.58L2021.34,1137.69L2027.94,1137.68ZM2060.85,1171.40L2062.90,1177.68L2069.50,1177.69L2064.16,1181.58L2066.20,1187.86L2060.85,1183.98L2055.50,1187.86L2057.54,1181.58L2052.20,1177.69L2058.80,1177.68ZM2091.71,1220.40L2093.76,1226.68L2100.36,1226.69L2095.02,1230.58L2097.06,1236.86L2091.71,1232.98L2086.36,1236.86L2088.40,1230.58L2083.06,1226.69L2089.66,1226.68ZM2122.57,1141.40L2124.62,1147.68L2131.22,1147.69L2125.88,1151.58L2127.92,1157.86L2122.57,1153.98L2117.22,1157.86L2119.26,1151.58L2113.92,1147.69L2120.52,1147.68ZM2153.43,1091.40L2155.48,1097.68L2162.08,1097.69L2156.74,1101.58L2158.78,1107.86L2153.43,1103.98L2148.08,1107.86L2150.12,1101.58L2144.78,1097.69L2151.38,1097.68ZM2184.29,1161.40L2186.34,1167.68L2192.94,1167.69L2187.60,1171.58L2189.64,1177.86L2184.29,1173.98L2178.94,1177.86L2180.98,1171.58L2175.64,1167.69L2182.24,1167.68ZM2215.15,1111.40L2217.20,1117.68L2223.80,1117.69L2218.46,1121.58L2220.50,1127.86L2215.15,1123.98L2209.80,1127.86L2211.84,1121.58L2206.50,1117.69L2213.10,1117.68ZM2246.01,1181.40L2248.06,1187.68L2254.66,1187.69L2249.32,1191.58L2251.36,1197.86L2246.01,1193.98L2240.66,1197.86L2242.70,1191.58L2237.36,1187.69L2243.96,1187.68ZM2276.87,1131.40L2278.92,1137.68L2285.52,1137.69L2280.18,1141.58L2282.22,1147.86L2276.87,1143.98L2271.52,1147.86L2273.56,1141.58L2268.22,1137.69L2274.82,1137.68ZM2307.73,1091.40L2309.78,1097.68L2316.38,1097.69L2311.04,1101.58L2313.08,1107.86L2307.73,1103.98L2302.38,1107.86L2304.42,1101.58L2299.08,1097.69L2305.68,1097.68ZM2338.59,1151.40L2340.64,1157.68L2347.24,1157.69L2341.90,1161.58L2343.94,1167.86L2338.59,1163.98L2333.24,1167.86L2335.28,1161.58L2329.94,1157.69L2336.54,1157.68Z" fill="none" stroke="#00f" stroke-width="4.6" stroke-linejoin="miter" stroke-miterlimit="10"/>
<g fill="none" stroke="#000" stroke-width="3.8">
<circle cx="240.1" cy="1062.8" r="7.85"/>
<circle cx="271.0" cy="760.3" r="7.85"/>
<circle cx="301.8" cy="780.9" r="7.85"/>
<circle cx="332.7" cy="879.3" r="7.85"/>
<circle cx="363.6" cy="878.1" r="7.85"/>
<circle cx="394.4" cy="743.3" r="7.85"/>
<circle cx="425.3" cy="686.9" r="7.85"/>
<circle cx="456.1" cy="757.8" r="7.85"/>
<circle cx="487.0" cy="778.4" r="7.85"/>
<circle cx="517.9" cy="745.3" r="7.85"/>
<circle cx="548.7" cy="764.1" r="7.85"/>
<circle cx="579.6" cy="742.8" r="7.85"/>
<circle cx="610.4" cy="753.3" r="7.85"/>
<circle cx="641.3" cy="759.6" r="7.85"/>
<circle cx="672.1" cy="823.4" r="7.85"/>
<circle cx="703.0" cy="688.9" r="7.85"/>
<circle cx="733.9" cy="753.6" r="7.85"/>
<circle cx="764.7" cy="1034.0" r="7.85"/>
<circle cx="795.6" cy="822.5" r="7.85"/>
<circle cx="826.5" cy="775.4" r="7.85"/>
<circle cx="857.3" cy="773.7" r="7.85"/>
<circle cx="888.2" cy="740.4" r="7.85"/>
<circle cx="919.0" cy="724.1" r="7.85"/>
<circle cx="949.9" cy="775.4" r="7.85"/>
<circle cx="980.8" cy="685.8" r="7.85"/>
<circle cx="1011.6" cy="638.9" r="7.85"/>
<circle cx="1042.5" cy="734.6" r="7.85"/>
<circle cx="1073.3" cy="727.8" r="7.85"/>
<circle cx="1104.2" cy="723.6" r="7.85"/>
<circle cx="1135.0" cy="767.4" r="7.85"/>
<circle cx="1165.9" cy="654.4" r="7.85"/>
<circle cx="1196.8" cy="575.6" r="7.85"/>
<circle cx="1227.6" cy="462.7" r="7.85"/>
<circle cx="1258.5" cy="569.7" r="7.85"/>
<circle cx="1289.3" cy="964.6" r="7.85"/>
<circle cx="1320.2" cy="823.6" r="7.85"/>
<circle cx="1351.1" cy="791.0" r="7.85"/>
<circle cx="1381.9" cy="700.2" r="7.85"/>
<circle cx="1412.8" cy="667.6" r="7.85"/>
<circle cx="1443.7" cy="680.2" r="7.85"/>
<circle cx="1474.5" cy="884.8" r="7.85"/>
<circle cx="1505.4" cy="792.9" r="7.85"/>
<circle cx="1536.2" cy="842.2" r="7.85"/>
<circle cx="1567.1" cy="1010.2" r="7.85"/>
<circle cx="1598.0" cy="867.5" r="7.85"/>
<circle cx="1628.8" cy="694.4" r="7.85"/>
<circle cx="1659.7" cy="747.0" r="7.85"/>
<circle cx="1690.5" cy="835.5" r="7.85"/>
<circle cx="1721.4" cy="862.5" r="7.85"/>
<circle cx="1752.2" cy="841.7" r="7.85"/>
<circle cx="1783.1" cy="874.8" r="7.85"/>
<circle cx="1814.0" cy="895.0" r="7.85"/>
<circle cx="1844.8" cy="796.9" r="7.85"/>
<circle cx="1875.7" cy="798.5" r="7.85"/>
<circle cx="1906.5" cy="821.7" r="7.85"/>
<circle cx="1937.4" cy="797.9" r="7.85"/>
<circle cx="1968.3" cy="681.0" r="7.85"/>
<circle cx="1999.1" cy="715.3" r="7.85"/>
<circle cx="2030.0" cy="733.6" r="7.85"/>
<circle cx="2060.8" cy="770.9" r="7.85"/>
<circle cx="2091.7" cy="779.9" r="7.85"/>
<circle cx="2122.6" cy="971.7" r="7.85"/>
<circle cx="2153.4" cy="842.5" r="7.85"/>
<circle cx="2184.3" cy="678.2" r="7.85"/>
<circle cx="2215.1" cy="722.3" r="7.85"/>
<circle cx="2246.0" cy="749.1" r="7.85"/>
<circle cx="2276.9" cy="710.8" r="7.85"/>
<circle cx="2307.7" cy="634.6" r="7.85"/>
<circle cx="2338.6" cy="737.8" r="7.85"/>
</g>
<rect x="1725.4" y="931.3" width="643.5" height="303.10000000000014" fill="#fff" stroke="#262626" stroke-width="2.1"/>
<g class="ln">
<line x1="1735.2" y1="966.0" x2="1857.6" y2="966.0" stroke="#fc5008" stroke-width="4.0"/>
<line x1="1735.2" y1="1025.0" x2="1857.6" y2="1025.0" stroke="#f00" stroke-width="4.0"/>
<path d="M1735.2,1084.1H1750.2M1764.2,1084.1H1778.0M1792.0,1084.1H1805.8M1819.8,1084.1H1833.6M1847.6,1084.1H1857.6" stroke="#f0f" stroke-width="3.9"/>
<path d="M1735.2,1141.6H1750.2M1764.2,1141.6H1778.0M1792.0,1141.6H1805.8M1819.8,1141.6H1833.6M1847.6,1141.6H1857.6" stroke="#00f" stroke-width="3.9"/>
<path d="M1735.2,1200.4H1750.2M1764.2,1200.4H1778.0M1792.0,1200.4H1805.8M1819.8,1200.4H1833.6M1847.6,1200.4H1857.6" stroke="#000" stroke-width="3.9"/>
</g>
<path d="M1783.90,1025.00H1809.10M1796.50,1012.40V1037.60M1788.10,1016.60L1804.90,1033.40M1788.10,1033.40L1804.90,1016.60" fill="none" stroke="#f00" stroke-width="3.8"/>
<path d="M1785.40,1077.29L1809.00,1077.29L1797.20,1097.73Z" fill="none" stroke="#f0f" stroke-width="3.8" stroke-miterlimit="10"/>
<path d="M1797.20,1133.50L1799.25,1139.78L1805.85,1139.79L1800.51,1143.68L1802.55,1149.96L1797.20,1146.08L1791.85,1149.96L1793.89,1143.68L1788.55,1139.79L1795.15,1139.78Z" fill="none" stroke="#00f" stroke-width="4.6" stroke-miterlimit="10"/>
<circle cx="1797.2" cy="1201.2" r="8.2" fill="none" stroke="#000" stroke-width="3.8"/>
<text class="lg" x="1866.4" y="983.0">DBF</text>
<text class="lg" x="1866.4" y="1042.0">SL-MLC with pure noise</text>
<text class="lg" x="1866.4" y="1101.1">MLC</text>
<text class="lg" x="1866.4" y="1158.6">SL-MLC</text>
<text class="lg" x="1866.4" y="1217.4">MLC with pure noise</text>
</svg></body></html>
